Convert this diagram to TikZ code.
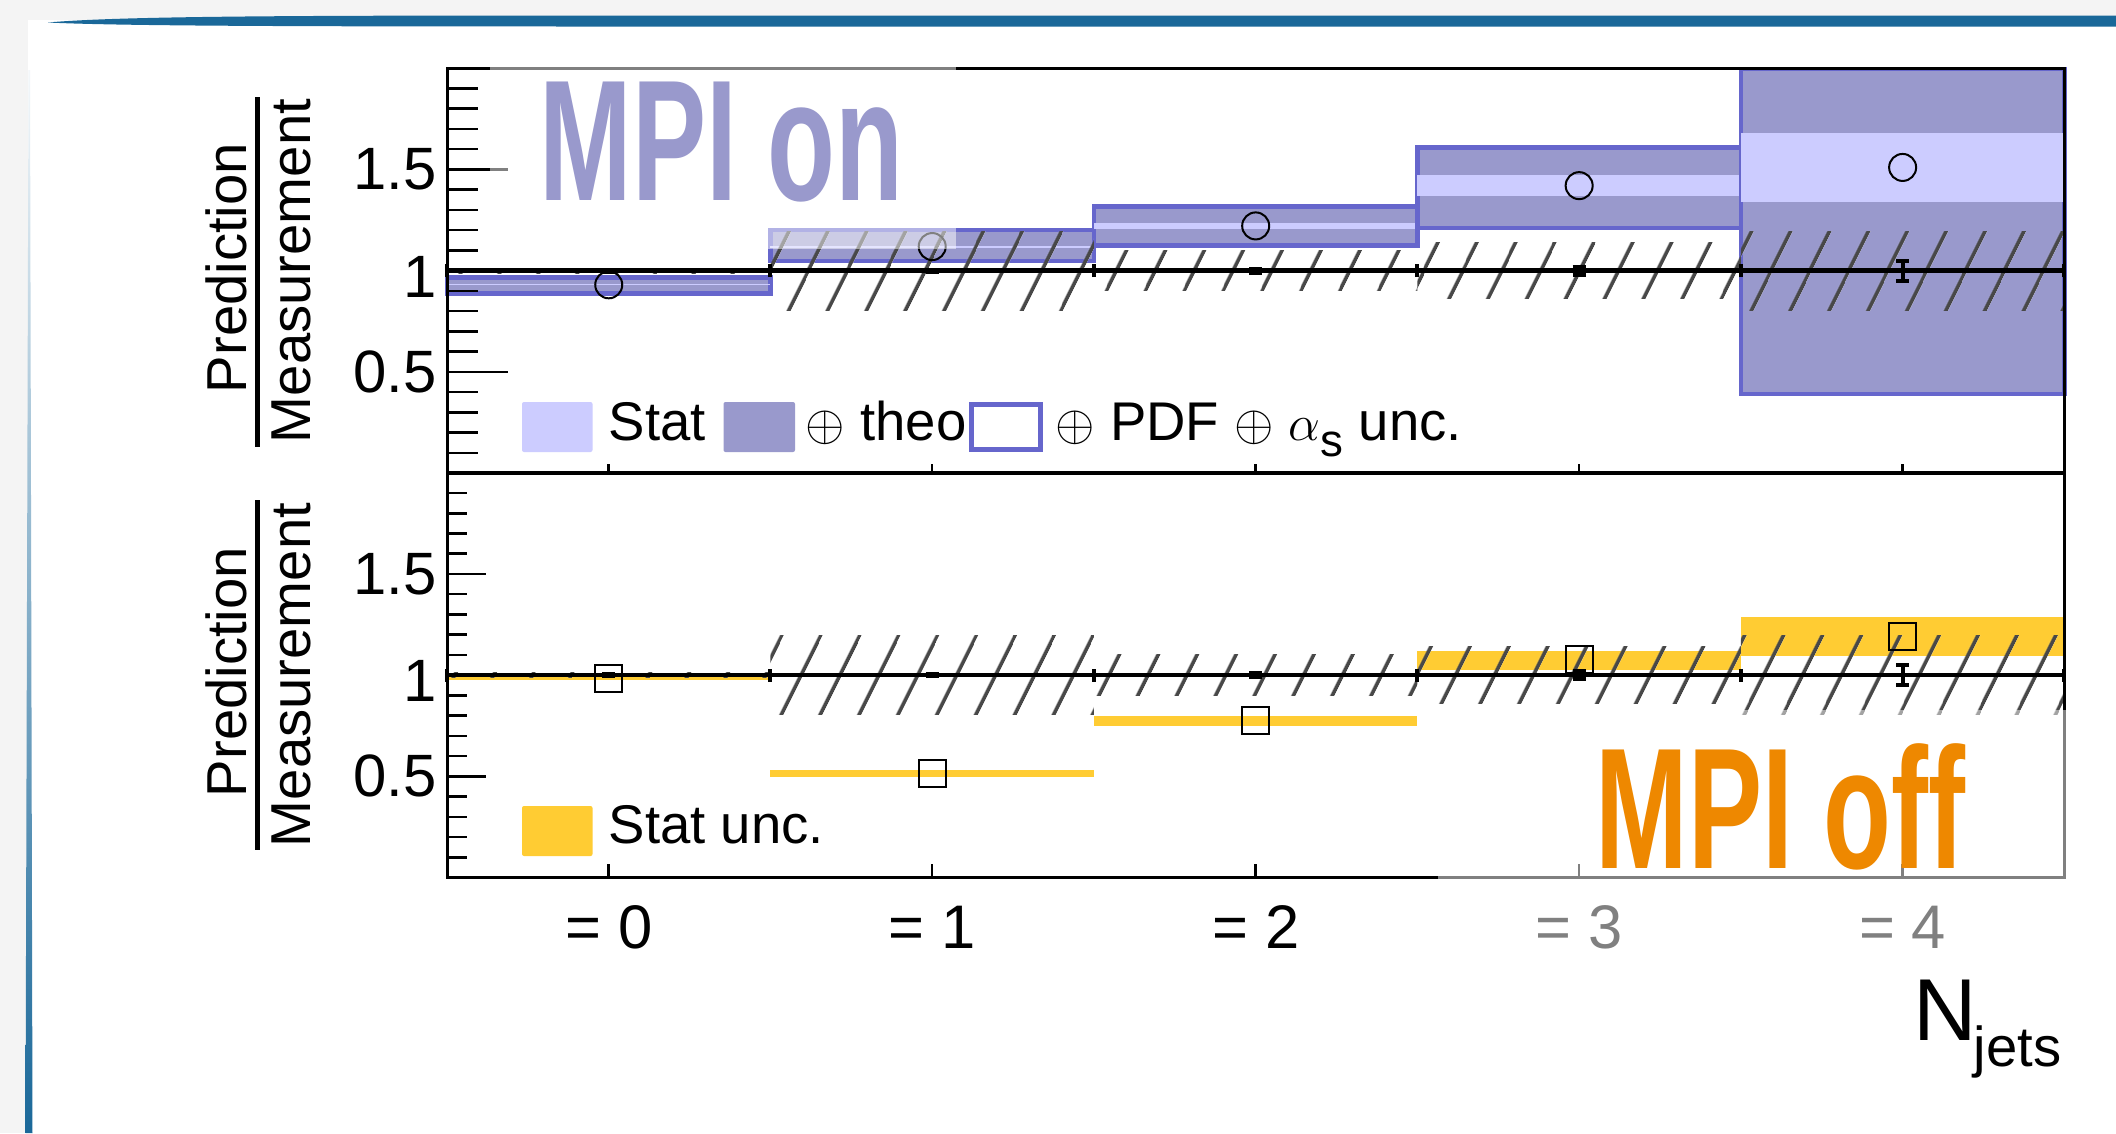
\documentclass[tikz,border=0pt]{standalone}
\usepackage{fontspec}
\setmainfont{Liberation Sans}
\usetikzlibrary{patterns.meta}

\definecolor{statfill}{HTML}{CCCCFF}
\definecolor{theofill}{HTML}{9999CC}
\definecolor{pdfline}{HTML}{6666CC}
\definecolor{offfill}{HTML}{FFCC33}
\definecolor{mpioff}{HTML}{EE8800}
\definecolor{hatchgray}{HTML}{484848}
\definecolor{slidebg}{HTML}{F4F4F4}
\definecolor{slideblue}{HTML}{1A6899}

\newcommand{\fsize}[1]{\fontsize{#1}{#1}\selectfont}

\begin{document}
\begin{tikzpicture}[x=0.01cm, y=-0.01cm,
  frame/.style={line width=0.03cm},
  tick/.style={line width=0.025cm},
  ticklabel/.style={font=\fsize{17pt}, anchor=east, inner sep=0pt, xshift=-0.1cm},
  binlabel/.style={font=\fsize{17.5pt}, anchor=base, inner sep=0pt},
  ratiotitle/.style={font=\fsize{16pt}, rotate=90, anchor=base, inner sep=0pt},
  legtext/.style={font=\fsize{15.5pt}, anchor=base west, inner sep=0pt},
  legbox/.style={rounded corners=0.02cm},
  mpilabel/.style={font=\fsize{49pt}\bfseries, xscale=0.645, anchor=base west, inner sep=0pt},
  hatched/.style={pattern={Lines[angle=63.7, distance=0.345cm, line width=0.04cm]}, pattern color=hatchgray},
  databar/.style={line width=0.04cm},
  marker/.style={line width=0.02cm},
  veil/.style={fill=white, fill opacity=0.5}]

\fill[slidebg] (0,0) rectangle (2116,1133);
\fill[white] (28,20) rectangle (2116,1133);
\fill[slideblue] (48,22.5) .. controls (120,16) and (300,15.5) .. (600,15.5) -- (2116,15.5)
  -- (2116,26.5) -- (600,26.5) .. controls (300,26.5) and (120,26) .. (48,22.5) -- cycle;
\shade[top color=slideblue!5, middle color=slideblue!85, bottom color=slideblue]
  (28.5,70) -- (30,70) -- (32.5,1133) -- (25.5,1133) -- cycle;

\begin{scope}[shift={(447,473)}, x=3.2328cm, y=2.0225cm]
\foreach \b/\lo/\hi/\slo/\shi in {0/0.888/0.967/0.928/0.936, 1/1.048/1.2015/1.110/1.120,
  2/1.123/1.318/1.205/1.2375, 3/1.21/1.609/1.371/1.473, 4/0.39/1.996/1.341/1.68}{
  \filldraw[fill=theofill, draw=pdfline, line width=0.045cm] (\b,\lo) rectangle (\b+1,\hi);
  \fill[statfill] (\b,\slo) rectangle (\b+1,\shi);
}
\foreach \b/\e in {0/0.012, 1/0.195, 2/0.10, 3/0.14, 4/0.195}
  \fill[hatched] (\b,1-\e) rectangle (\b+1,1+\e);
\draw[line width=0.045cm] (0,1) -- (5,1);
\foreach \b in {0,...,5}
  \draw[databar] (\b,1) ++(0,-0.065cm) -- ++(0,0.13cm);
\foreach \b/\e in {0/0.005, 1/0.005, 2/0.01, 3/0.02, 4/0.05}{
  \draw[databar] (\b+0.5,1-\e) -- (\b+0.5,1+\e);
  \draw[databar] (\b+0.5,1-\e) ++(-0.065cm,0) -- ++(0.13cm,0);
  \draw[databar] (\b+0.5,1+\e) ++(-0.065cm,0) -- ++(0.13cm,0);
}
\foreach \b/\v in {0/0.93, 1/1.119, 2/1.221, 3/1.42, 4/1.51}
  \draw[marker] (\b+0.5,\v) circle[radius=0.135cm];
\draw[frame] (0,0) rectangle (5,2);
\foreach \i in {1,...,19}
  \draw[tick] (0,\i/10) -- ++(0.31cm,0);
\foreach \v in {0.5,1,1.5}
  \draw[tick] (0,\v) -- ++(0.61cm,0);
\foreach \b in {0,...,4}
  \draw[tick] (\b+0.5,0) -- ++(0,0.09cm);
\node[ticklabel] (upone5) at (0,1.5) {1.5};
\node[ticklabel, yshift=-0.06cm] (upone) at (0,1) {1};
\node[ticklabel] (uphalf) at (0,0.5) {0.5};
\end{scope}

\fill[statfill, legbox] (522,402) rectangle (592.5,452);
\node[legtext] (statkey) at (608,440) {Stat};
\fill[theofill, legbox] (723.5,402) rectangle (795,452);
\node[legtext] (theokey) at (805,440) {$\oplus$ theo};
\draw[pdfline, line width=0.045cm, fill=white] (971.5,404.3) rectangle (1040.5,449.7);
\node[legtext] (pdfkey) at (1055,440) {$\oplus$ PDF $\oplus$ $\alpha$\raisebox{-0.31em}{\fsize{13pt}s} unc.};

\begin{scope}[shift={(447,877.5)}, x=3.2328cm, y=2.0225cm]
\foreach \b/\lo/\hi in {0/0.976/0.993, 1/0.498/0.531, 2/0.749/0.798, 3/1.026/1.12, 4/1.097/1.285}
  \fill[offfill] (\b,\lo) rectangle (\b+1,\hi);
\foreach \b/\e in {0/0.012, 1/0.195, 2/0.10, 3/0.14, 4/0.195}
  \fill[hatched] (\b,1-\e) rectangle (\b+1,1+\e);
\draw[line width=0.045cm] (0,1) -- (5,1);
\foreach \b in {0,...,5}
  \draw[databar] (\b,1) ++(0,-0.065cm) -- ++(0,0.13cm);
\foreach \b/\e in {0/0.005, 1/0.005, 2/0.01, 3/0.02, 4/0.05}{
  \draw[databar] (\b+0.5,1-\e) -- (\b+0.5,1+\e);
  \draw[databar] (\b+0.5,1-\e) ++(-0.065cm,0) -- ++(0.13cm,0);
  \draw[databar] (\b+0.5,1+\e) ++(-0.065cm,0) -- ++(0.13cm,0);
}
\foreach \b/\v in {0/0.982, 1/0.515, 2/0.775, 3/1.075, 4/1.192}
  \draw[marker] (\b+0.5,\v) ++(-0.135cm,-0.135cm) rectangle ++(0.27cm,0.27cm);
\draw[frame] (0,0) rectangle (5,2);
\foreach \i in {1,...,19}
  \draw[tick] (0,\i/10) -- ++(0.2cm,0);
\foreach \v in {0.5,1,1.5}
  \draw[tick] (0,\v) -- ++(0.39cm,0);
\foreach \b in {0,...,4}
  \draw[tick] (\b+0.5,0) -- ++(0,0.14cm);
\node[ticklabel] (loone5) at (0,1.5) {1.5};
\node[ticklabel, yshift=-0.055cm] (loone) at (0,1) {1};
\node[ticklabel] (lohalf) at (0,0.5) {0.5};
\foreach \n in {0,...,4}
  \node[binlabel] (bin\n) at (\n+0.5,-0.35) {= \n};
\end{scope}

\fill[offfill, legbox] (522,806) rectangle (592.5,856);
\node[legtext] (offkey) at (608,843) {Stat unc.};

\draw[line width=0.05cm] (257,97) -- (257,447);
\node[ratiotitle] (uppred) at (246.5,268) {Prediction};
\node[ratiotitle] (upmeas) at (310.5,271) {Measurement};
\draw[line width=0.05cm] (257,500) -- (257,850);
\node[ratiotitle] (lopred) at (246.5,672) {Prediction};
\node[ratiotitle] (lomeas) at (310.5,675) {Measurement};

\node[anchor=base west, inner sep=0pt, font=\fsize{25pt}] (njets) at (1913,1040) {N};
\node[anchor=base west, inner sep=0pt, font=\fsize{16pt}] (njetssub) at (1973,1066) {jets};

\fill[veil] (490,55) rectangle (956,249);
\fill[veil] (1438,710) rectangle (2075,962);
\node[mpilabel, text=theofill] (mpion) at (539,200) {MPI on};
\node[mpilabel, text=mpioff] (mpioff) at (1595,868) {MPI off};
\end{tikzpicture}
\end{document}
